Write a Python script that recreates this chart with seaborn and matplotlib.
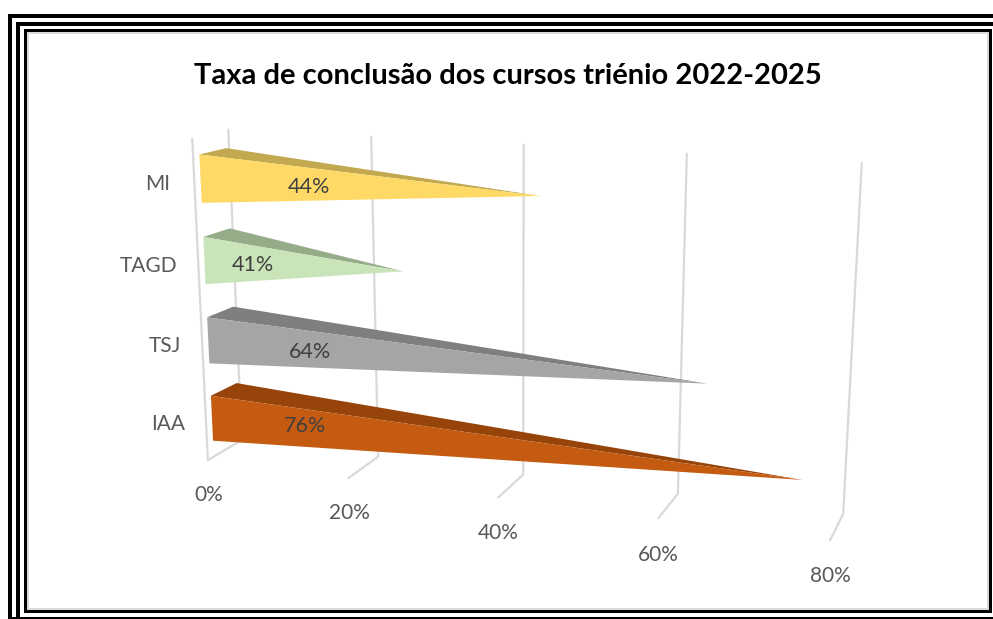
import numpy as np
import pandas as pd
import matplotlib
matplotlib.use("Agg")
import matplotlib.pyplot as plt
from matplotlib.patches import Rectangle
import seaborn as sns

# =====================
# DATA
# =====================
courses = ["IAA", "TSJ", "TAGD", "MI"]
bar_values = [75.8, 64.3, 26, 43.7]       # length of the bar, read on the axis
bar_labels = ["76%", "64%", "41%", "44%"]  # printed labels (TAGD label != bar)
axis_ticks = [0, 20, 40, 60, 80]

face_colors = ["#C55A11", "#A5A5A5", "#C9E4B9", "#FFD966"]
top_colors = ["#964409", "#7F7F7F", "#94AD88", "#C2A84F"]
TEXT = "#595959"
GRID = "#D9D9D9"

# =====================
# PERSPECTIVE
# =====================
# axis corners seen in the picture, used to fit a camera: (value, depth, height) -> pixel
calib_front = [(209, 460), (348, 478), (498, 497), (658, 519), (830, 541)]
calib_back = [(240, 442), (379, 455), (524, 474), (678, 493), (843, 514)]
calib_top = [(229, 130), (371, 137), (523, 145), (687, 154), (862, 163)]
calib_corner = (192, 138)

def fit_camera():
    world, pix = [], []
    for t, a, b, c in zip(axis_ticks, calib_front, calib_back, calib_top):
        world += [(t, 0, 0), (t, 1, 0), (t, 1, 1)]
        pix += [a, b, c]
    world.append((0, 0, 1))
    pix.append(calib_corner)
    A, rhs = [], []
    for (v, d, h), (px, py) in zip(world, pix):
        u = v / 80
        A.append([u, d, h, 1, 0, 0, 0, 0, -px * u, -px * d, -px * h])
        A.append([0, 0, 0, 0, u, d, h, 1, -py * u, -py * d, -py * h])
        rhs += [px, py]
    sol = np.linalg.lstsq(np.array(A, float), np.array(rhs, float), rcond=None)[0]
    return np.append(sol, 1).reshape(3, 4)

CAM = fit_camera()

def project(v, d, h):
    p = CAM @ np.array([v / 80, d, h, 1])
    return p[0] / p[2], p[1] / p[2]

# =====================
# PLOT
# =====================
sns.set_theme(style="white")
plt.rcParams["font.family"] = ["Lato", "DejaVu Sans"]

fig = plt.figure(figsize=(9.93, 6.19), dpi=100)
ax = fig.add_axes([0, 0, 1, 1])

df = pd.DataFrame({"curso": courses, "valor": bar_values})
sns.barplot(data=df, x="valor", y="curso", order=courses, ax=ax)
# seaborn gives the bars, each is then redrawn as a wedge in perspective
bars = sorted(ax.patches, key=lambda b: b.get_y() + b.get_height() / 2)
lengths = [b.get_width() for b in bars]
for b in bars:
    b.remove()

# grid
rows = []
for t in axis_ticks:
    wall = [project(t, 1, 1), project(t, 1, 0), project(t, 0, 0)]
    if t == 0:
        wall += [project(t, 0, 1)]
    for x, y in wall:
        rows.append({"tick": t, "px": x, "py": y})
grid_df = pd.DataFrame(rows)
sns.lineplot(data=grid_df, x="px", y="py", units="tick", estimator=None, sort=False,
             color=GRID, lw=1.6, legend=False, ax=ax)

# wedges, back row first
for i in range(len(lengths) - 1, -1, -1):
    hc = 0.125 + 0.25 * i
    ft = project(0, 0.17, hc + 0.073)
    fb = project(0, 0.17, hc - 0.073)
    bt = project(0, 0.92, hc + 0.07)
    tip = project(lengths[i], 0.5, hc)
    ax.fill(*zip(ft, bt, tip), color=top_colors[i], lw=0, zorder=2.5)
    ax.fill(*zip(ft, fb, tip), color=face_colors[i], lw=0, zorder=2.5)

# texts
ax.text(508, 76, "Taxa de conclusão dos cursos triénio 2022-2025", ha="center", va="center",
        fontsize=21, fontweight="bold", color="black")
for name, (x, y) in zip(courses, [(168, 424), (165, 346), (149, 266), (158, 184)]):
    ax.text(x, y, name, ha="center", va="center", fontsize=15, color=TEXT)
for t, (x, y) in zip(axis_ticks, [(209, 495), (349, 513), (498, 533), (658, 555), (830, 576)]):
    ax.text(x, y, f"{t}%", ha="center", va="center", fontsize=15, color=TEXT)
for lab, (x, y) in zip(bar_labels, [(305, 426), (310, 352), (253, 265), (309, 187)]):
    ax.text(x, y, lab, ha="center", va="center", fontsize=15.5, color="#404040")

# frame of the slide
def box(x0, y0, x1, y1, c="black"):
    ax.add_patch(Rectangle((x0, y0), x1 - x0, y1 - y0, fc=c, ec="none", zorder=4))

box(27, 32, 989, 34, GRID)
box(27, 32, 29, 610, GRID)
box(27, 608, 989, 610, GRID)
box(987, 32, 989, 610, GRID)
box(8, 14, 993, 18)
box(8, 14, 12, 619)
box(8, 617, 993, 619)
box(16, 22, 993, 26)
box(16, 22, 20, 619)
box(24, 29, 992, 32)
box(24, 29, 27, 613)
box(24, 610, 992, 613)
box(989, 29, 992, 613)

ax.set_xlim(0, 993)
ax.set_ylim(619, 0)
ax.axis("off")

fig.savefig("out.png", dpi=100)
